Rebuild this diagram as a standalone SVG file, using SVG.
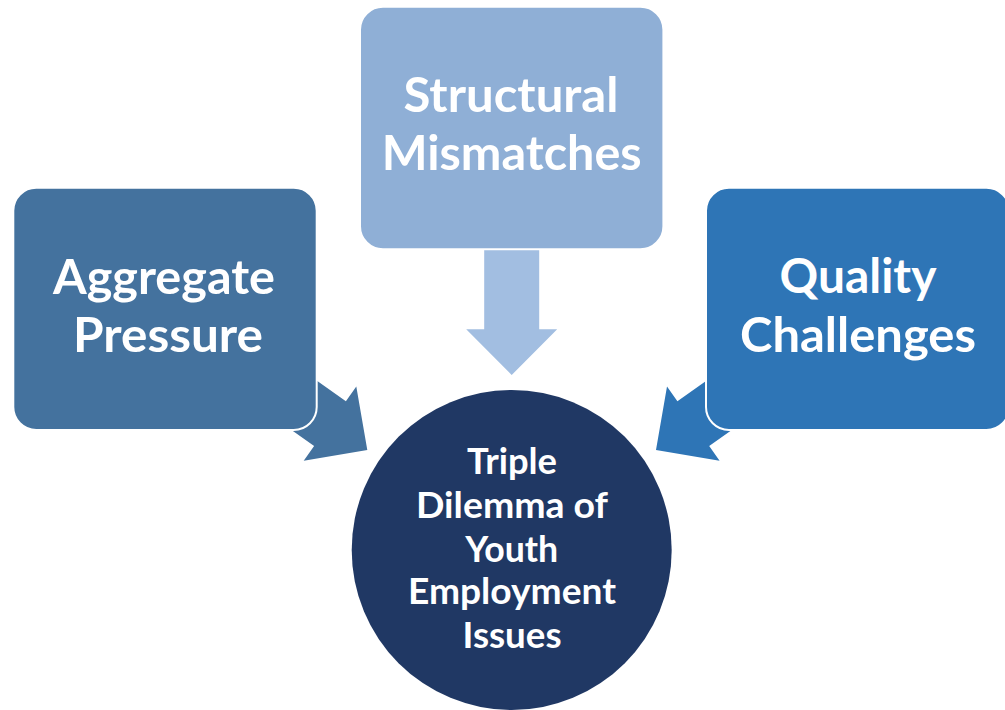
<svg xmlns="http://www.w3.org/2000/svg" width="1005" height="710" viewBox="0 0 1005 710">
  <style>
    .box { stroke: #ffffff; stroke-width: 2; }
    .lbl { font-family: Lato, "Liberation Sans", sans-serif; font-weight: bold; fill: #ffffff; text-anchor: middle; }
    .big { font-size: 47.5px; }
    .small { font-size: 36px; }
  </style>
  <defs>
    <path id="arrow" d="M -27.5 -130 L 27.5 -130 L 27.5 -45.7 L 45.5 -45.7 L 0 0 L -45.5 -45.7 L -27.5 -45.7 Z"/>
  </defs>
  <rect width="1005" height="710" fill="#ffffff"/>
  <g id="connectors">
    <use href="#arrow" fill="#44729E" transform="translate(367.3,450) rotate(-54.7)"/>
    <use href="#arrow" fill="#A2BEE1" transform="translate(511.7,375)"/>
    <use href="#arrow" fill="#2E75B6" transform="translate(656,450) rotate(54.7)"/>
  </g>
  <g id="node-aggregate">
    <rect class="box" x="13.3" y="187.7" width="303.4" height="242.3" rx="23" fill="#44729E"/>
    <text class="lbl big" x="164" y="294" textLength="222" lengthAdjust="spacingAndGlyphs">Aggregate</text>
    <text class="lbl big" x="168" y="351.7" textLength="190" lengthAdjust="spacingAndGlyphs">Pressure</text>
  </g>
  <g id="node-structural">
    <rect class="box" x="360" y="6.7" width="303.4" height="242.6" rx="23" fill="#8FAFD6"/>
    <text class="lbl big" x="511" y="111.7" textLength="215" lengthAdjust="spacingAndGlyphs">Structural</text>
    <text class="lbl big" x="511.7" y="170" textLength="260" lengthAdjust="spacingAndGlyphs">Mismatches</text>
  </g>
  <g id="node-quality">
    <rect class="box" x="706" y="187.7" width="303.4" height="242.3" rx="23" fill="#2E75B6"/>
    <text class="lbl big" x="858" y="293.3" textLength="157" lengthAdjust="spacingAndGlyphs">Quality</text>
    <text class="lbl big" x="858" y="351.7" textLength="236" lengthAdjust="spacingAndGlyphs">Challenges</text>
  </g>
  <g id="node-center">
    <circle cx="511.7" cy="550" r="160" fill="#203864"/>
    <text class="lbl small" x="512" y="474" textLength="90" lengthAdjust="spacingAndGlyphs">Triple</text>
    <text class="lbl small" x="512" y="518.3" textLength="192" lengthAdjust="spacingAndGlyphs">Dilemma of</text>
    <text class="lbl small" x="511.7" y="561.7" textLength="93" lengthAdjust="spacingAndGlyphs">Youth</text>
    <text class="lbl small" x="512" y="604" textLength="208" lengthAdjust="spacingAndGlyphs">Employment</text>
    <text class="lbl small" x="512" y="648.3" textLength="99" lengthAdjust="spacingAndGlyphs">Issues</text>
  </g>
</svg>
